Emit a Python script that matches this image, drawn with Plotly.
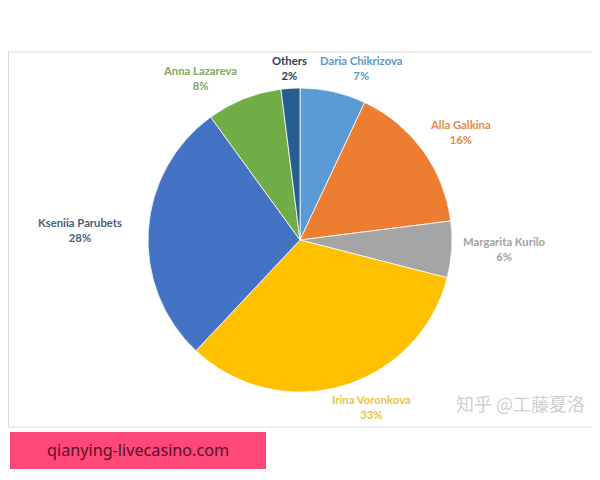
import math
import plotly.graph_objects as go

# ---- data ----
names = ["Daria Chikrizova", "Alla Galkina", "Margarita Kurilo", "Irina Voronkova",
         "Kseniia Parubets", "Anna Lazareva", "Others"]
shares = [7, 16, 6, 33, 28, 8, 2]

# ---- styling / layout ----
slice_colors = ["#5B9BD5", "#ED7D31", "#A5A5A5", "#FFC000", "#4472C4", "#70AD47", "#255E91"]
label_colors = ["#6396c8", "#e2894c", "#a3a3a3", "#e9c440", "#4a5f7c", "#80a862", "#2b3e57"]
label_angle_shift = [7, 2, -1, -7, -1, -10, 0]        # degrees, best-fit nudges
label_radius = [183, 194, 205, 182, 220, 190, 172]     # px from pie centre
watermark = "知乎 @工藤夏洛"
banner_text = "qianying-livecasino.com"

W, H = 600, 480
OFF = 8  # page body margin of the browser
cx, cy, R = 300, 240, 152  # pie centre / radius in window px


def px(x):
    return (x - OFF) / W


def py(y):
    return 1 - (y - OFF) / H


fig = go.Figure(go.Pie(
    labels=names,
    values=shares,
    sort=False,
    direction="clockwise",
    rotation=0,
    marker=dict(colors=slice_colors, line=dict(color="white", width=0.8)),
    textinfo="none",
    hoverinfo="label+percent",
    showlegend=False,
    domain=dict(x=[px(cx - R), px(cx + R)], y=[py(cy + R), py(cy - R)]),
))

total = sum(shares)
cum = 0
annotations = []
for name, v, col, dsh, rad in zip(names, shares, label_colors, label_angle_shift, label_radius):
    th = 2 * math.pi * (cum + v / 2) / total + math.radians(dsh)
    cum += v
    lx = cx + rad * math.sin(th)
    ly = cy - rad * math.cos(th)
    pct = round(100 * v / total)
    annotations.append(dict(
        x=px(lx), y=py(ly), xref="paper", yref="paper",
        text=f"{name}<br>{pct}%", showarrow=False,
        font=dict(family="Lato, Carlito, sans-serif", size=11.3, color=col, weight="bold"),
        align="center", xanchor="center", yanchor="middle",
    ))

annotations.append(dict(
    x=px(520), y=py(403), xref="paper", yref="paper", text=watermark, showarrow=False,
    font=dict(family="Noto Sans CJK SC", size=18, color="#cfcfcf"),
    xanchor="center", yanchor="middle",
))
annotations.append(dict(
    x=px(138), y=py(450), xref="paper", yref="paper", text=banner_text, showarrow=False,
    font=dict(family="Noto Sans, DejaVu Sans, sans-serif", size=16.2, color="#5a1024"),
    xanchor="center", yanchor="middle",
))

shapes = [
    dict(type="rect", xref="paper", yref="paper", x0=px(8.5), x1=px(598.5), y0=py(427), y1=py(52),
         line=dict(color="#d9d9d9", width=1.2), fillcolor="rgba(0,0,0,0)", layer="below"),
    dict(type="rect", xref="paper", yref="paper", x0=px(10), x1=px(266), y0=py(469), y1=py(432),
         line=dict(width=0), fillcolor="#FF4778", layer="below"),
]

fig.update_layout(
    width=W, height=H,
    margin=dict(l=0, r=0, t=0, b=0),
    paper_bgcolor="white", plot_bgcolor="white",
    annotations=annotations, shapes=shapes,
)

fig.write_html("out.html")
